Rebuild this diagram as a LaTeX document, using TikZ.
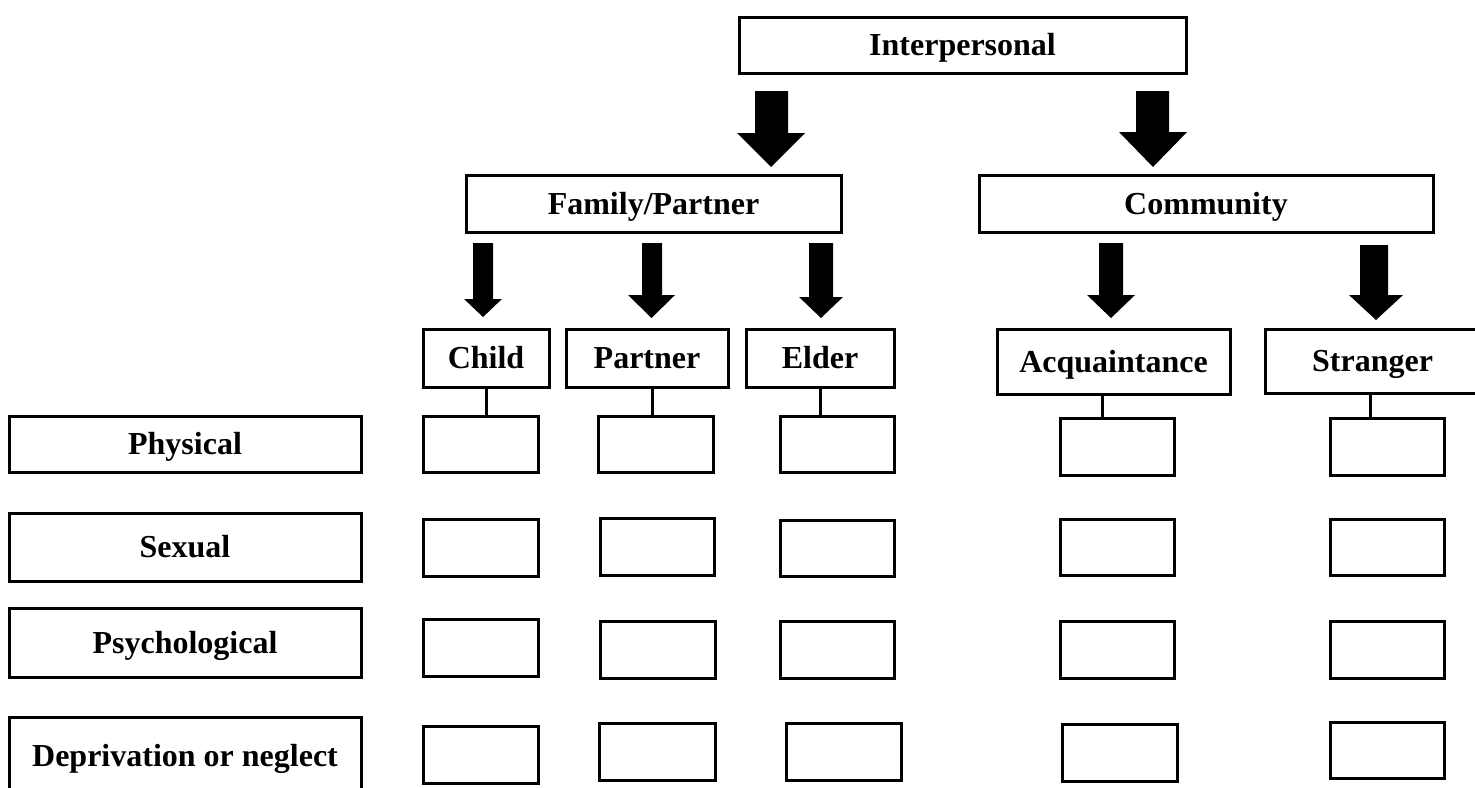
\documentclass[tikz,border=0pt]{standalone}
\usepackage{fontspec}
\setmainfont{Liberation Serif}

% filled down arrow: shaft left/right, shaft top, head left/right, head base, tip
\newcommand\blockarrow[7]{%
  \fill (#1,#3) -- (#2,#3) -- (#2,#6) -- (#5,#6) -- ({(#4+#5)/2},#7)
        -- (#4,#6) -- (#1,#6) -- cycle;}

% framed box from corner (#2,#3) to corner (#4,#5), named #1, holding #6
\newcommand\cellbox[6]{%
  \node[box, minimum width={(#4-#2)*0.5pt}, minimum height={(#5-#3)*0.5pt}]
    (#1) at ({(#2+#4)/2},{(#3+#5)/2}) {#6};}

\begin{document}
\begin{tikzpicture}[x=0.5pt,y=-0.5pt,
  label/.style={font=\fontsize{16}{19}\selectfont\bfseries,
                text height=10.6pt, text depth=0pt},
  box/.style={draw, line width=1.5pt, inner sep=0pt, fill=white, label},
  link/.style={line width=1.5pt}]
\useasboundingbox (0,0) rectangle (1475,787);
\clip (0,0) rectangle (1475,787);

% hierarchy
\cellbox{inter}{739}{17}{1186}{73}{Interpersonal}
\cellbox{family}{466}{175}{841}{232}{Family/Partner}
\cellbox{comm}{979}{175}{1433}{232}{Community}

\cellbox{child}{423}{329}{549}{387}{Child}
\cellbox{partner}{566}{329}{728}{387}{Partner}
\cellbox{elder}{746}{329}{894}{387}{Elder}
\cellbox{acq}{997}{329}{1230}{394}{Acquaintance}
\cellbox{stranger}{1265}{329}{1480}{393}{Stranger}

% block arrows
\blockarrow{755}{788}{91}{737}{805}{133}{167}
\blockarrow{1136}{1169}{91}{1119}{1187}{132}{167}
\blockarrow{473}{493}{243}{464}{502}{299}{317}
\blockarrow{642}{662}{243}{628}{675}{295}{318}
\blockarrow{809}{833}{243}{799}{843}{297}{318}
\blockarrow{1099}{1123}{243}{1087}{1135}{295}{318}
\blockarrow{1360}{1388}{245}{1349}{1403}{295}{320}

% violence types
\cellbox{phys}{9}{416}{361}{472}{Physical}
\cellbox{sex}{9}{513}{361}{581}{Sexual}
\cellbox{psych}{9}{608}{361}{677}{Psychological}
\cellbox{depr}{9}{717}{361}{840}{}
\node[label] (deprtext) at (185,756) {Deprivation or neglect};

% grid of empty cells
\cellbox{c1}{423}{416}{538}{472}{}
\cellbox{p1}{598}{416}{713}{472}{}
\cellbox{e1}{780}{416}{894}{472}{}
\cellbox{a1}{1060}{418}{1174}{475}{}
\cellbox{s1}{1330}{418}{1444}{475}{}

\cellbox{c2}{423}{519}{538}{576}{}
\cellbox{p2}{600}{518}{714}{575}{}
\cellbox{e2}{780}{520}{894}{576}{}
\cellbox{a2}{1060}{519}{1174}{575}{}
\cellbox{s2}{1330}{519}{1444}{575}{}

\cellbox{c3}{423}{619}{538}{676}{}
\cellbox{p3}{600}{621}{715}{678}{}
\cellbox{e3}{780}{621}{894}{678}{}
\cellbox{a3}{1060}{621}{1174}{678}{}
\cellbox{s3}{1330}{621}{1444}{678}{}

\cellbox{c4}{423}{726}{538}{783}{}
\cellbox{p4}{599}{723}{715}{780}{}
\cellbox{e4}{786}{723}{901}{780}{}
\cellbox{a4}{1062}{724}{1177}{781}{}
\cellbox{s4}{1330}{722}{1444}{778}{}

% links from relationship boxes to the first row
\draw[link] (child.south) -- (child.south |- c1.north);
\draw[link] ([xshift=2.5pt]partner.south) -- ([xshift=2.5pt]partner.south |- p1.north);
\draw[link] (elder.south) -- (elder.south |- e1.north);
\draw[link] ([xshift=-5.5pt]acq.south) -- ([xshift=-5.5pt]acq.south |- a1.north);
\draw[link] ([xshift=-1.25pt]stranger.south) -- ([xshift=-1.25pt]stranger.south |- s1.north);
\end{tikzpicture}
\end{document}
